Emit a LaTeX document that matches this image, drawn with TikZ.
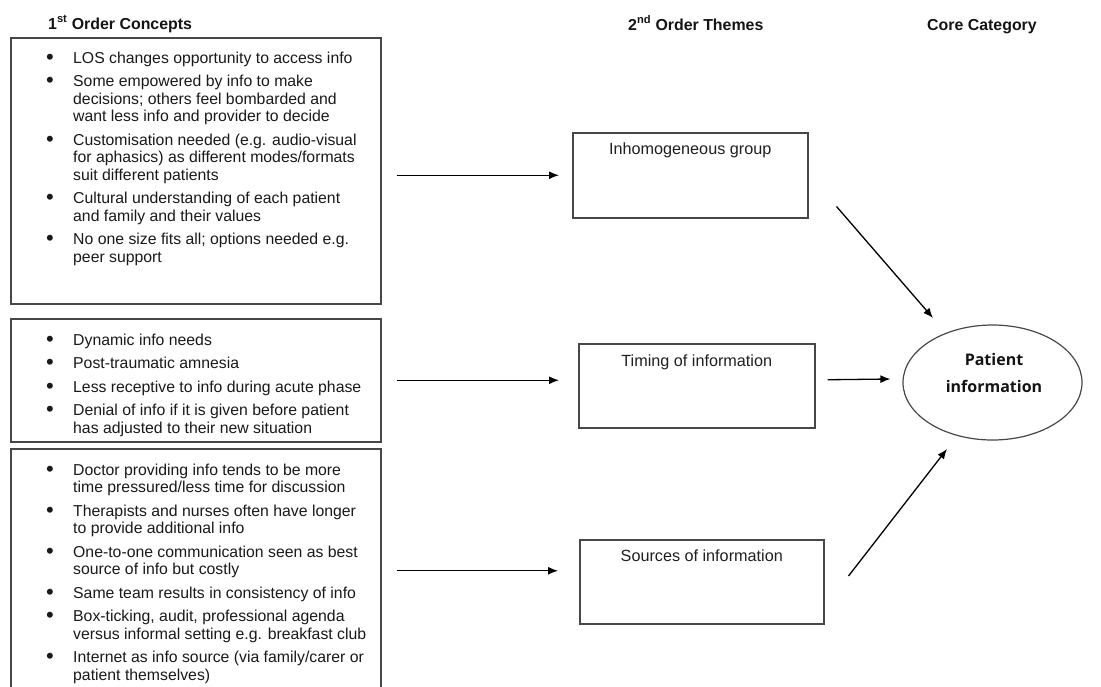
\documentclass[tikz,border=0pt]{standalone}
\usepackage{fontspec}
\setmainfont{Liberation Sans}
\newfontfamily\corefont{Open Sans}
\usetikzlibrary{arrows.meta,shapes.geometric}
\newcommand\bodyfont{\fontsize{15.8pt}{17.5pt}\selectfont}
\newcommand\nextitem{\\[6pt]}
\newcommand\dotmark{\raisebox{-1.2pt}{\fontsize{22pt}{17.5pt}\selectfont •}}

\begin{document}
\begin{tikzpicture}[x=1pt,y=-1pt,
  frame/.style={draw=black!72, line width=1.5pt, inner sep=0pt, anchor=north west},
  bullets/.style={anchor=base west, inner sep=0pt, font=\bodyfont, text=black!90},
  themetext/.style={anchor=base, inner sep=0pt, font=\fontsize{16.2pt}{19pt}\selectfont, text=black!88},
  heading/.style={anchor=base west, inner sep=0pt, font=\fontsize{15.9pt}{19pt}\selectfont\bfseries, text=black!92},
  flow/.style={line width=1.3pt, -{Latex[length=10pt,width=8pt]}},
]
\clip (0,0) rectangle (1101,686);

% column headings
\node[heading] (h1) at (48,29) {1\textsuperscript{st} Order Concepts};
\node[heading] (h2) at (628,30) {2\textsuperscript{nd} Order Themes};
\node[heading] (h3) at (927,30) {Core Category};

% first order concept boxes
\node[frame, minimum width=370pt, minimum height=266pt] (b1) at (10,37) {};
\node[frame, minimum width=370pt, minimum height=123pt] (b2) at (10,318) {};
\node[frame, minimum width=370pt, minimum height=252pt] (b3) at (10,448) {};

\node[bullets] (l1) at (46,63) {%
\begin{tabular}[t]{@{}p{27pt}@{}l@{}}
\dotmark & LOS changes opportunity to access info\nextitem
\dotmark & Some empowered by info to make\\
  & decisions; others feel bombarded and\\
  & want less info and provider to decide\nextitem
\dotmark & Customisation needed (e.g. audio-visual\\
  & for aphasics) as different modes/formats\\
  & suit different patients\nextitem
\dotmark & Cultural understanding of each patient\\
  & and family and their values\nextitem
\dotmark & No one size fits all; options needed e.g.\\
  & peer support
\end{tabular}};

\node[bullets] (l2) at (46,345) {%
\begin{tabular}[t]{@{}p{27pt}@{}l@{}}
\dotmark & Dynamic info needs\nextitem
\dotmark & Post-traumatic amnesia\nextitem
\dotmark & Less receptive to info during acute phase\nextitem
\dotmark & Denial of info if it is given before patient\\
  & has adjusted to their new situation
\end{tabular}};

\node[bullets] (l3) at (46,475) {%
\begin{tabular}[t]{@{}p{27pt}@{}l@{}}
\dotmark & Doctor providing info tends to be more\\
  & time pressured/less time for discussion\nextitem
\dotmark & Therapists and nurses often have longer\\
  & to provide additional info\nextitem
\dotmark & One-to-one communication seen as best\\
  & source of info but costly\nextitem
\dotmark & Same team results in consistency of info\nextitem
\dotmark & Box-ticking, audit, professional agenda\\
  & versus informal setting e.g. breakfast club\nextitem
\dotmark & Internet as info source (via family/carer or\\
  & patient themselves)
\end{tabular}};

% second order themes
\node[frame, minimum width=235pt, minimum height=85pt] (t1) at (572,132) {};
\node[frame, minimum width=236pt, minimum height=84pt] (t2) at (578,343) {};
\node[frame, minimum width=244pt, minimum height=84pt] (t3) at (579,539) {};
\node[themetext] (t1txt) at ([yshift=-22pt]t1.north) {Inhomogeneous group};
\node[themetext] (t2txt) at ([yshift=-23.5pt]t2.north) {Timing of information};
\node[themetext] (t3txt) at ([yshift=-22.5pt]t3.north) {Sources of information};

% core category
\node[ellipse, draw=black!72, line width=1.2pt, inner sep=0pt,
      minimum width=179pt, minimum height=115pt] (pi) at (992.5,382.5) {};
\node[anchor=base, align=center, inner sep=0pt,
      font=\corefont\bfseries\fontsize{16pt}{27pt}\selectfont, text=black!92]
      (pitxt) at (994,392) {Patient\\information};

% connectors
\draw[flow] ([xshift=15pt]b1.east |- t1.west) -- ([xshift=-13pt]t1.west);
\draw[flow] ([xshift=15pt]b2.east) -- ([xshift=-19pt]t2.west |- b2.east);
\draw[flow] ([xshift=15pt,yshift=11pt]b3.east |- t3.west) -- ([xshift=-21pt,yshift=11pt]t3.west);

\draw[flow] ([xshift=28pt,yshift=12pt]t1.south east) -- ([xshift=-59.5pt,yshift=64.5pt]pi.center);
\draw[flow] ([xshift=12pt,yshift=6pt]t2.east) -- ([xshift=-12pt,yshift=3.5pt]pi.west);
\draw[flow] ([xshift=24pt,yshift=-37pt]t3.north east) -- ([xshift=-45.5pt,yshift=-66.5pt]pi.center);
\end{tikzpicture}
\end{document}
